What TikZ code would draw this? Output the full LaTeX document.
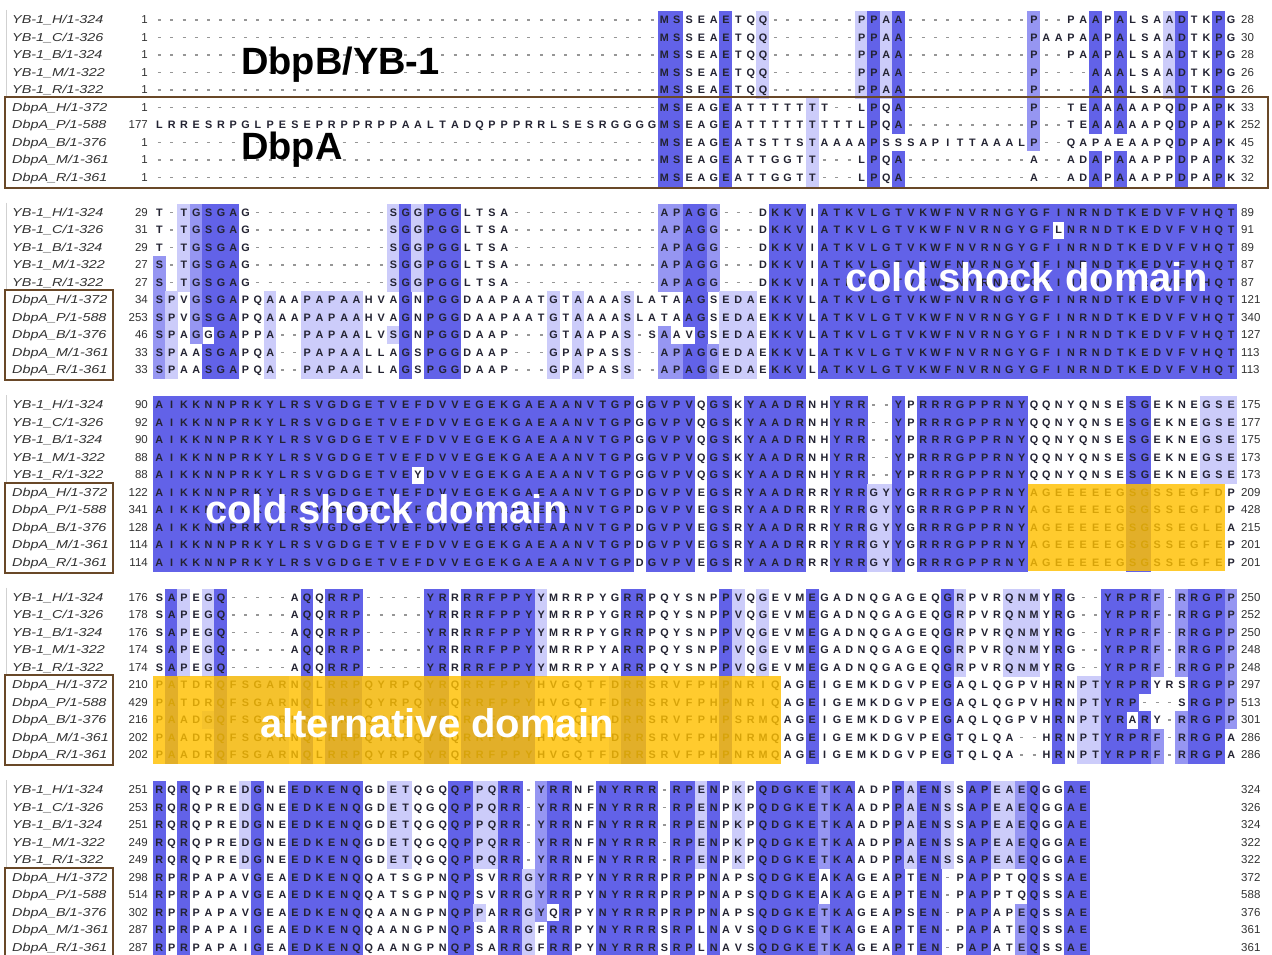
\documentclass[tikz,border=0pt]{standalone}
\usepackage{fontspec}
\setmainfont{Liberation Sans}
\newfontfamily\resfamily{Liberation Sans}
\newfontfamily\namefamily[FakeStretch=1.25]{Liberation Sans}

\definecolor{pidA}{RGB}{98,98,232}
\definecolor{pidB}{RGB}{150,150,242}
\definecolor{pidC}{RGB}{204,204,250}
\definecolor{boxbrown}{RGB}{105,72,40}
\definecolor{altgold}{RGB}{255,192,0}
\definecolor{restext}{RGB}{35,35,50}
\definecolor{gapgray}{RGB}{150,150,150}
\definecolor{numgray}{RGB}{50,50,50}

\tikzset{
  rowtext/.style={inner sep=0pt, anchor=base west, font=\resfamily\bfseries\fontsize{10.8}{12}\selectfont, text=restext},
  seqname/.style={inner sep=0pt, anchor=base west, font=\namefamily\itshape\fontsize{11.5}{12}\selectfont, text=numgray},
  startnum/.style={inner sep=0pt, anchor=base east, font=\resfamily\fontsize{11.5}{12}\selectfont, text=numgray},
  endnum/.style={inner sep=0pt, anchor=base west, font=\resfamily\fontsize{11.5}{12}\selectfont, text=numgray},
  bigtag/.style={inner sep=0pt, anchor=base west, font=\bfseries\fontsize{38}{40}\selectfont, text=black},
  domtag/.style={inner sep=0pt, anchor=base west, font=\bfseries\fontsize{40}{42}\selectfont, text=white},
  groupbox/.style={draw=boxbrown, line width=2pt},
  panelline/.style={draw=black!18, line width=1pt},
  goldzone/.style={fill=altgold, fill opacity=0.82},
}

\ExplSyntaxOn
\tl_const:Nn \c_aln_gap_tl { - }
\fp_const:Nn \c_aln_xz_fp { 153 }
\fp_const:Nn \c_aln_w_fp { 12.32 }
\tl_new:N \l_aln_tmp_tl
\int_new:N \l_aln_num_int
\int_new:N \l_aln_best_int
\int_new:N \l_aln_cnt_int
\int_new:N \l_aln_run_int
\bool_new:N \l_aln_tie_bool
\tl_new:N \l_aln_cons_tl
\tl_new:N \l_aln_fill_tl
\tl_new:N \l_aln_xa_tl
\tl_new:N \l_aln_xb_tl
\tl_new:N \l_aln_ya_tl
\tl_new:N \l_aln_yb_tl
\tl_new:N \l_aln_y_tl
\int_step_inline:nn {10} { \tl_new:c { l_aln_c_#1_tl } }

\cs_new_protected:Npn \aln_setrow:nnn #1#2#3
  {
    \tl_clear:N \l_aln_tmp_tl
    \int_zero:N \l_aln_num_int
    \tl_map_inline:nn {#3}
      {
        \tl_if_in:nnTF { 0123456789 } {##1}
          { \int_set:Nn \l_aln_num_int { \l_aln_num_int * 10 + ##1 } }
          {
            \tl_put_right:Nx \l_aln_tmp_tl { \prg_replicate:nn { \l_aln_num_int } { - } }
            \int_zero:N \l_aln_num_int
            \tl_put_right:Nn \l_aln_tmp_tl {##1}
          }
      }
    \tl_put_right:Nx \l_aln_tmp_tl { \prg_replicate:nn { \l_aln_num_int } { - } }
    \tl_gset_eq:cN { g_aln_row_#1_#2_tl } \l_aln_tmp_tl
  }

\cs_new_protected:Npn \aln_count:n #1
  {
    \int_zero:N \l_aln_cnt_int
    \int_step_inline:nn {10}
      { \tl_if_eq:ccT { l_aln_c_#1_tl } { l_aln_c_##1_tl } { \int_incr:N \l_aln_cnt_int } }
  }

% filled rectangle over rows #2..#3 of block #1 (current column)
\cs_new_protected:Npn \aln_rect:nnn #1#2#3
  {
    \tl_set:Nx \l_aln_ya_tl { \fp_eval:n { 20 + ((#1 - 1) * 11 + (#2) - 1) * 17.5 - 9.0 } }
    \tl_set:Nx \l_aln_yb_tl { \fp_eval:n { 20 + ((#1 - 1) * 11 + (#3) - 1) * 17.5 + 9.0 } }
    \fill[fill=\l_aln_fill_tl](\l_aln_xa_tl,\l_aln_ya_tl)rectangle(\l_aln_xb_tl,\l_aln_yb_tl);
  }

\cs_new_protected:Npn \aln_column:nn #1#2
  {
    \int_step_inline:nn {10}
      { \tl_set:cx { l_aln_c_##1_tl } { \tl_item:cn { g_aln_row_#1_##1_tl } {#2} } }
    \int_zero:N \l_aln_best_int
    \bool_set_false:N \l_aln_tie_bool
    \tl_clear:N \l_aln_cons_tl
    \int_step_inline:nn {10}
      {
        \tl_if_eq:cNF { l_aln_c_##1_tl } \c_aln_gap_tl
          {
            \aln_count:n {##1}
            \int_compare:nNnTF \l_aln_cnt_int > \l_aln_best_int
              {
                \int_set_eq:NN \l_aln_best_int \l_aln_cnt_int
                \tl_set_eq:Nc \l_aln_cons_tl { l_aln_c_##1_tl }
                \bool_set_false:N \l_aln_tie_bool
              }
              {
                \int_compare:nNnT \l_aln_cnt_int = \l_aln_best_int
                  {
                    \tl_if_eq:NcF \l_aln_cons_tl { l_aln_c_##1_tl }
                      { \bool_set_true:N \l_aln_tie_bool }
                  }
              }
          }
      }
    \tl_clear:N \l_aln_fill_tl
    \bool_if:NF \l_aln_tie_bool
      {
        \int_compare:nNnTF \l_aln_best_int > 8
          { \tl_set:Nn \l_aln_fill_tl { pidA } }
          {
            \int_compare:nNnTF \l_aln_best_int > 6
              { \tl_set:Nn \l_aln_fill_tl { pidB } }
              {
                \int_compare:nNnT \l_aln_best_int > 4
                  { \tl_set:Nn \l_aln_fill_tl { pidC } }
              }
          }
      }
    \tl_if_empty:NF \l_aln_fill_tl
      {
        \tl_set:Nx \l_aln_xa_tl { \fp_eval:n { \c_aln_xz_fp + (#2 - 1) * \c_aln_w_fp - 0.25 } }
        \tl_set:Nx \l_aln_xb_tl { \fp_eval:n { \c_aln_xz_fp + #2 * \c_aln_w_fp + 0.25 } }
        \int_zero:N \l_aln_run_int
        \int_step_inline:nn {10}
          {
            \tl_if_eq:NcTF \l_aln_cons_tl { l_aln_c_##1_tl }
              {
                \int_compare:nNnT \l_aln_run_int = 0
                  { \int_set:Nn \l_aln_run_int {##1} }
              }
              {
                \int_compare:nNnF \l_aln_run_int = 0
                  {
                    \aln_rect:nnn {#1} { \int_use:N \l_aln_run_int } { ##1 - 1 }
                    \int_zero:N \l_aln_run_int
                  }
              }
          }
        \int_compare:nNnF \l_aln_run_int = 0
          { \aln_rect:nnn {#1} { \int_use:N \l_aln_run_int } { 10 } }
      }
  }

\cs_new_protected:Npn \aln_glyph:n #1
  {
    \str_if_eq:nnTF {#1} {-}
      { \hbox_to_wd:nn {12.32pt} { \hss \textcolor{gapgray}{\rule[3.1pt]{3.0pt}{1.5pt}} \hss } }
      { \hbox_to_wd:nn {12.32pt} { \hss #1 \hss } }
  }

\NewDocumentCommand \SetRow { m m m } { \aln_setrow:nnn {#1} {#2} {#3} }
\NewDocumentCommand \ShadeBlock { m m }
  { \int_step_inline:nn {#2} { \aln_column:nn {#1} {##1} } }
\NewDocumentCommand \RowText { m m }
  { \tl_map_function:cN { g_aln_row_#1_#2_tl } \aln_glyph:n }
\ExplSyntaxOff

% ---------- block 1 ----------
\SetRow{1}{1}{41MSSEAETQQ7PPAA10P2PAAPALSAADTKPG}
\SetRow{1}{2}{41MSSEAETQQ7PPAA10PAAPAAPALSAADTKPG}
\SetRow{1}{3}{41MSSEAETQQ7PPAA10P2PAAPALSAADTKPG}
\SetRow{1}{4}{41MSSEAETQQ7PPAA10P4AAALSAADTKPG}
\SetRow{1}{5}{41MSSEAETQQ7PPAA10P4AAALSAADTKPG}
\SetRow{1}{6}{41MSEAGEATTTTTTT2LPQA10P2TEAAAAAPQDPAPK}
\SetRow{1}{7}{LRRESRPGLPESEPRPPRPPAALTADQPPPRRLSESRGGGGMSEAGEATTTTTTTTTLPQA10P2TEAAAAAPQDPAPK}
\SetRow{1}{8}{41MSEAGEATSTTSTAAAAPSSSAPITTAAALP2QAPAEAAPQDPAPK}
\SetRow{1}{9}{41MSEAGEATTGGTT3LPQA10A2ADAPAAAPPDPAPK}
\SetRow{1}{10}{41MSEAGEATTGGTT3LPQA10A2ADAPAAAPPDPAPK}
% ---------- block 2 ----------
\SetRow{2}{1}{T1TGSGAG11SGGPGGLTSA12APAGG3DKKVIATKVLGTVKWFNVRNGYGFINRNDTKEDVFVHQT}
\SetRow{2}{2}{T1TGSGAG11SGGPGGLTSA12APAGG3DKKVIATKVLGTVKWFNVRNGYGFLNRNDTKEDVFVHQT}
\SetRow{2}{3}{T1TGSGAG11SGGPGGLTSA12APAGG3DKKVIATKVLGTVKWFNVRNGYGFINRNDTKEDVFVHQT}
\SetRow{2}{4}{S1TGSGAG11SGGPGGLTSA12APAGG3DKKVIATKVLGTVKWFNVRNGYGFINRNDTKEDVFVHQT}
\SetRow{2}{5}{S1TGSGAG11SGGPGGLTSA12APAGG3DKKVIATKVLGTVKWFNVRNGYGFINRNDTKEDVFVHQT}
\SetRow{2}{6}{SPVGSGAPQAAAPAPAAHVAGNPGGDAAPAATGTAAAASLATAAGSEDAEKKVLATKVLGTVKWFNVRNGYGFINRNDTKEDVFVHQT}
\SetRow{2}{7}{SPVGSGAPQAAAPAPAAHVAGNPGGDAAPAATGTAAAASLATAAGSEDAEKKVLATKVLGTVKWFNVRNGYGFINRNDTKEDVFVHQT}
\SetRow{2}{8}{SPAGGGAPPA2PAPAALVSGNPGGDAAP3GTAAPAS1SAAVGSEDAEKKVLATKVLGTVKWFNVRNGYGFINRNDTKEDVFVHQT}
\SetRow{2}{9}{SPAASGAPQA2PAPAALLAGSPGGDAAP3GPAPASS2APAGGEDAEKKVLATKVLGTVKWFNVRNGYGFINRNDTKEDVFVHQT}
\SetRow{2}{10}{SPAASGAPQA2PAPAALLAGSPGGDAAP3GPAPASS2APAGGEDAEKKVLATKVLGTVKWFNVRNGYGFINRNDTKEDVFVHQT}
% ---------- block 3 ----------
\SetRow{3}{1}{AIKKNNPRKYLRSVGDGETVEFDVVEGEKGAEAANVTGPGGVPVQGSKYAADRNHYRR2YPRRRGPPRNYQQNYQNSESGEKNEGSE}
\SetRow{3}{2}{AIKKNNPRKYLRSVGDGETVEFDVVEGEKGAEAANVTGPGGVPVQGSKYAADRNHYRR2YPRRRGPPRNYQQNYQNSESGEKNEGSE}
\SetRow{3}{3}{AIKKNNPRKYLRSVGDGETVEFDVVEGEKGAEAANVTGPGGVPVQGSKYAADRNHYRR2YPRRRGPPRNYQQNYQNSESGEKNEGSE}
\SetRow{3}{4}{AIKKNNPRKYLRSVGDGETVEFDVVEGEKGAEAANVTGPGGVPVQGSKYAADRNHYRR2YPRRRGPPRNYQQNYQNSESGEKNEGSE}
\SetRow{3}{5}{AIKKNNPRKYLRSVGDGETVEYDVVEGEKGAEAANVTGPGGVPVQGSKYAADRNHYRR2YPRRRGPPRNYQQNYQNSESGEKNEGSE}
\SetRow{3}{6}{AIKKNNPRKYLRSVGDGETVEFDVVEGEKGAEAANVTGPDGVPVEGSRYAADRRRYRRGYYGRRRGPPRNYAGEEEEEGSGSSEGFDP}
\SetRow{3}{7}{AIKKNNPRKYLRSVGDGETVEFDVVEGEKGAEAANVTGPDGVPVEGSRYAADRRRYRRGYYGRRRGPPRNYAGEEEEEGSGSSEGFDP}
\SetRow{3}{8}{AIKKNNPRKYLRSVGDGETVEFDVVEGEKGAEAANVTGPDGVPVEGSRYAADRRRYRRGYYGRRRGPPRNYAGEEEEEGSGSSEGLEA}
\SetRow{3}{9}{AIKKNNPRKYLRSVGDGETVEFDVVEGEKGAEAANVTGPDGVPVEGSRYAADRRRYRRGYYGRRRGPPRNYAGEEEEEGSGSSEGFEP}
\SetRow{3}{10}{AIKKNNPRKYLRSVGDGETVEFDVVEGEKGAEAANVTGPDGVPVEGSRYAADRRRYRRGYYGRRRGPPRNYAGEEEEEGSGSSEGFEP}
% ---------- block 4 ----------
\SetRow{4}{1}{SAPEGQ5AQQRRP5YRRRRFPPYYMRRPYGRRPQYSNPPVQGEVMEGADNQGAGEQGRPVRQNMYRG2YRPRF1RRGPP}
\SetRow{4}{2}{SAPEGQ5AQQRRP5YRRRRFPPYYMRRPYGRRPQYSNPPVQGEVMEGADNQGAGEQGRPVRQNMYRG2YRPRF1RRGPP}
\SetRow{4}{3}{SAPEGQ5AQQRRP5YRRRRFPPYYMRRPYGRRPQYSNPPVQGEVMEGADNQGAGEQGRPVRQNMYRG2YRPRF1RRGPP}
\SetRow{4}{4}{SAPEGQ5AQQRRP5YRRRRFPPYYMRRPYARRPQYSNPPVQGEVMEGADNQGAGEQGRPVRQNMYRG2YRPRF1RRGPP}
\SetRow{4}{5}{SAPEGQ5AQQRRP5YRRRRFPPYYMRRPYARRPQYSNPPVQGEVMEGADNQGAGEQGRPVRQNMYRG2YRPRF1RRGPP}
\SetRow{4}{6}{PATDRQFSGARNQLRRPQYRPQYRQRRFPPYHVGQTFDRRSRVFPHPNRIQAGEIGEMKDGVPEGAQLQGPVHRNPTYRPRYRSRGPP}
\SetRow{4}{7}{PATDRQFSGARNQLRRPQYRPQYRQRRFPPYHVGQTFDRRSRVFPHPNRIQAGEIGEMKDGVPEGAQLQGPVHRNPTYRP3SRGPP}
\SetRow{4}{8}{PAADGQFSGARNQLRRPQYRPQYRQRRFPPY1VGQTFDRRSRVFPHPSRMQAGEIGEMKDGVPEGAQLQGPVHRNPTYRARY1RRGPP}
\SetRow{4}{9}{PAADRQFSGARNQLRRPQYRPQYRQRRFPPYHVGQTFDRRSRVFPHPNRMQAGEIGEMKDGVPEGTQLQA2HRNPTYRPRF1RRGPA}
\SetRow{4}{10}{PAADRQFSGARNQLRRPQYRPQYRQRRFPPYHVGQTFDRRSRVFPHPNRMQAGEIGEMKDGVPEGTQLQA2HRNPTYRPRF1RRGPA}
% ---------- block 5 ----------
\SetRow{5}{1}{RQRQPREDGNEEDKENQGDETQGQQPPQRR1YRRNFNYRRR1RPENPKPQDGKETKAADPPAENSSAPEAEQGGAE}
\SetRow{5}{2}{RQRQPREDGNEEDKENQGDETQGQQPPQRR1YRRNFNYRRR1RPENPKPQDGKETKAADPPAENSSAPEAEQGGAE}
\SetRow{5}{3}{RQRQPREDGNEEDKENQGDETQGQQPPQRR1YRRNFNYRRR1RPENPKPQDGKETKAADPPAENSSAPEAEQGGAE}
\SetRow{5}{4}{RQRQPREDGNEEDKENQGDETQGQQPPQRR1YRRNFNYRRR1RPENPKPQDGKETKAADPPAENSSAPEAEQGGAE}
\SetRow{5}{5}{RQRQPREDGNEEDKENQGDETQGQQPPQRR1YRRNFNYRRR1RPENPKPQDGKETKAADPPAENSSAPEAEQGGAE}
\SetRow{5}{6}{RPRPAPAVGEAEDKENQQATSGPNQPSVRRGYRRPYNYRRRPRPPNAPSQDGKEAKAGEAPTEN1PAPPTQQSSAE}
\SetRow{5}{7}{RPRPAPAVGEAEDKENQQATSGPNQPSVRRGYRRPYNYRRRPRPPNAPSQDGKEAKAGEAPTEN1PAPPTQQSSAE}
\SetRow{5}{8}{RPRPAPAVGEAEDKENQQAANGPNQPPARRGYQRPYNYRRRPRPPNAPSQDGKETKAGEAPSEN1PAPAPEQSSAE}
\SetRow{5}{9}{RPRPAPAIGEAEDKENQQAANGPNQPSARRGFRRPYNYRRRSRPLNAVSQDGKETKAGEAPTEN1PAPATEQSSAE}
\SetRow{5}{10}{RPRPAPAIGEAEDKENQQAANGPNQPSARRGFRRPYNYRRRSRPLNAVSQDGKETKAGEAPTEN1PAPATEQSSAE}

\begin{document}
\begin{tikzpicture}[x=1pt,y=-1pt]
\useasboundingbox (0,0) rectangle (1272,955);
\fill[white] (0,0) rectangle (1272,955);

% panel edge lines beside the YB-1 rows
\foreach \b in {1,...,5} {
  \pgfmathsetmacro\ytop{20+((\b-1)*11)*17.5-10}
  \pgfmathsetmacro\ybot{20+((\b-1)*11+5)*17.5-10}
  \draw[panelline] (6,\ytop) -- (6,\ybot);
}

% percentage-identity shading
\ShadeBlock{1}{88}
\ShadeBlock{2}{88}
\ShadeBlock{3}{88}
\ShadeBlock{4}{88}
\ShadeBlock{5}{76}

% residue rows, names and numbers
\foreach \b/\ss/\ee in {
  1/{1,1,1,1,1,1,177,1,1,1}/{28,30,28,26,26,33,252,45,32,32},
  2/{29,31,29,27,27,34,253,46,33,33}/{89,91,89,87,87,121,340,127,113,113},
  3/{90,92,90,88,88,122,341,128,114,114}/{175,177,175,173,173,209,428,215,201,201},
  4/{176,178,176,174,174,210,429,216,202,202}/{250,252,250,248,248,297,513,301,286,286},
  5/{251,253,251,249,249,298,514,302,287,287}/{324,326,324,322,322,372,588,376,361,361}} {
  \foreach \nm [count=\r] in {{YB-1\_H/1-324},{YB-1\_C/1-326},{YB-1\_B/1-324},{YB-1\_M/1-322},{YB-1\_R/1-322},{DbpA\_H/1-372},{DbpA\_P/1-588},{DbpA\_B/1-376},{DbpA\_M/1-361},{DbpA\_R/1-361}} {
    \pgfmathsetmacro\yy{20+((\b-1)*11+\r-1)*17.5+3.9}
    \node[seqname] (nm\b-\r) at (12,\yy) {\nm};
    \node[rowtext] (tx\b-\r) at (153,\yy) {\RowText{\b}{\r}};
  }
  \foreach \n [count=\r] in \ss {
    \pgfmathsetmacro\yy{20+((\b-1)*11+\r-1)*17.5+3.9}
    \node[startnum] (st\b-\r) at (148,\yy) {\n};
  }
  \foreach \n [count=\r] in \ee {
    \pgfmathsetmacro\yy{20+((\b-1)*11+\r-1)*17.5+3.9}
    \node[endnum] (en\b-\r) at (1241,\yy) {\n};
  }
}

% alternative-domain highlights (translucent gold)
\fill[goldzone] (1027.7,483.75) rectangle (1224.8,571.25);
\fill[goldzone] (153,676.25) rectangle (781.3,763.75);

% DbpA group boxes
\draw[groupbox] (5,97) rectangle (1268,188);
\foreach \b in {2,...,5} {
  \pgfmathsetmacro\ya{20+((\b-1)*11+5)*17.5-10}
  \pgfmathsetmacro\yb{20+((\b-1)*11+9)*17.5+10}
  \draw[groupbox] (5,\ya) rectangle (113,\yb);
}

% labels
\node[bigtag] (lblyb) at (241,75) {DbpB/YB-1};
\node[bigtag] (lbldbpa) at (241,160) {DbpA};
\node[domtag] (csdone) at (845,291) {cold shock domain};
\node[domtag] (csdtwo) at (205,523) {cold shock domain};
\node[domtag] (altdom) at (260,737) {alternative domain};
\end{tikzpicture}
\end{document}
